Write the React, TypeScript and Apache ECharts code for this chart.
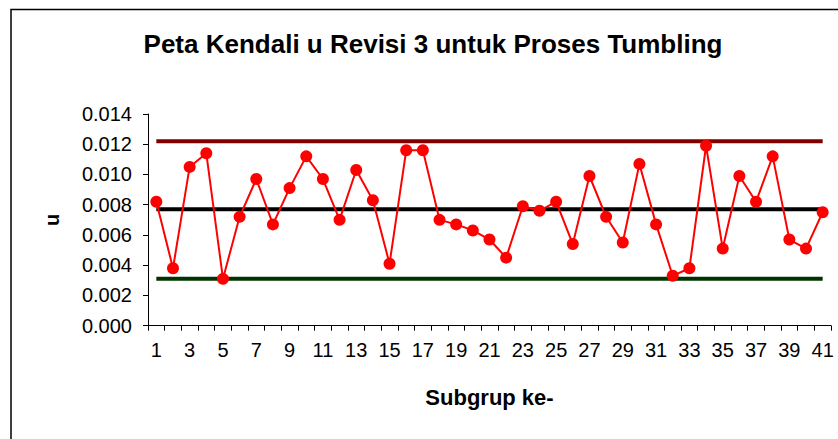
import React, { useEffect, useRef } from "react";
import * as echarts from "echarts";

const categories: string[] = Array.from({ length: 41 }, (_, i) => String(i + 1));
const uValues: number[] = [
  0.0082, 0.0038, 0.0105, 0.0114, 0.0031, 0.0072, 0.0097, 0.0067, 0.0091, 0.0112,
  0.0097, 0.0070, 0.0103, 0.0083, 0.0041, 0.0116, 0.0116, 0.0070, 0.0067, 0.0063,
  0.0057, 0.0045, 0.0079, 0.0076, 0.0082, 0.0054, 0.0099, 0.0072, 0.0055, 0.0107,
  0.0067, 0.0033, 0.0038, 0.0119, 0.0051, 0.0099, 0.0082, 0.0112, 0.0057, 0.0051,
  0.0075,
];
const UCL = 0.0122;
const CL = 0.0077;
const LCL = 0.0031;

const FONT = "'Liberation Sans', Arial, sans-serif";

export default function App() {
  const ref = useRef<HTMLDivElement>(null);
  useEffect(() => {
    if (!ref.current) return;
    const chart = echarts.init(ref.current, undefined, { renderer: "svg" });
    const limit = (v: number) => categories.map(() => v);
    chart.setOption({
      animation: false,
      backgroundColor: "#ffffff",
      title: {
        text: "Peta Kendali u Revisi 3 untuk Proses Tumbling",
        left: 428,
        top: 26,
        textAlign: "center",
        textStyle: { fontFamily: FONT, fontSize: 26, fontWeight: "bold", color: "#000" },
      },
      graphic: [
        {
          type: "rect",
          shape: { x: 11, y: 9.5, width: 860, height: 460 },
          style: { fill: "none", stroke: "#000", lineWidth: 1.5 },
          silent: true,
        },
      ],
      grid: { left: 148, right: 7, top: 114, bottom: 113.3, containLabel: false },
      xAxis: {
        type: "category",
        data: categories,
        boundaryGap: true,
        name: "Subgrup ke-",
        nameLocation: "middle",
        nameGap: 61,
        nameTextStyle: { fontFamily: FONT, fontSize: 22, fontWeight: "bold", color: "#000" },
        axisLine: { lineStyle: { color: "#000", width: 1 } },
        axisTick: { show: true, interval: 0, length: 5, lineStyle: { color: "#000" } },
        axisLabel: { interval: 1, margin: 14, fontFamily: FONT, fontSize: 20, color: "#000" },
        splitLine: { show: false },
      },
      yAxis: {
        type: "value",
        min: 0,
        max: 0.014,
        interval: 0.002,
        name: "u",
        nameLocation: "middle",
        nameGap: 86,
        nameRotate: 90,
        nameTextStyle: { fontFamily: FONT, fontSize: 20, fontWeight: "bold", color: "#000" },
        axisLine: { show: true, lineStyle: { color: "#000", width: 1 } },
        axisTick: { show: true, length: 5, lineStyle: { color: "#000" } },
        axisLabel: {
          margin: 16,
          fontFamily: FONT,
          fontSize: 20,
          color: "#000",
          formatter: (v: number) => v.toFixed(3),
        },
        splitLine: { show: false },
      },
      series: [
        {
          name: "UCL",
          type: "line",
          data: limit(UCL),
          symbol: "none",
          lineStyle: { color: "#800000", width: 4 },
          z: 2,
        },
        {
          name: "CL",
          type: "line",
          data: limit(CL),
          symbol: "none",
          lineStyle: { color: "#000000", width: 4 },
          z: 2,
        },
        {
          name: "LCL",
          type: "line",
          data: limit(LCL),
          symbol: "none",
          lineStyle: { color: "#003300", width: 4 },
          z: 2,
        },
        {
          name: "u",
          type: "line",
          data: uValues,
          symbol: "circle",
          symbolSize: 12,
          showAllSymbol: true,
          lineStyle: { color: "#ff0000", width: 2 },
          itemStyle: { color: "#ff0000" },
          z: 5,
        },
      ],
    });
    return () => chart.dispose();
  }, []);
  return (
    <div
      ref={ref}
      style={{ position: "fixed", left: 0, top: 0, width: 838, height: 439 }}
    />
  );
}
